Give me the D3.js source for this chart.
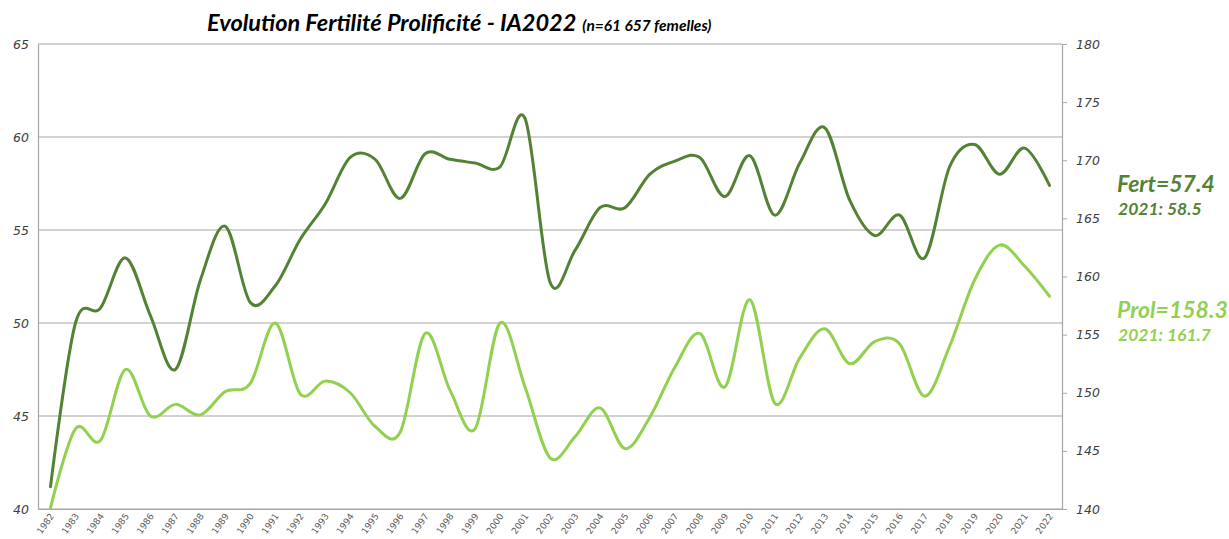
<!DOCTYPE html>
<html>
<head>
<meta charset="utf-8">
<script src="https://cdn.jsdelivr.net/npm/d3@7"></script>
<style>
  html, body { margin: 0; padding: 0; background: #fff; }
  svg { display: block; }
</style>
</head>
<body>
<svg id="chart" width="1229" height="539"></svg>
<script>
// Campaign years
const years = d3.range(1982, 2023).map(String);

// Fertility (%) per year, left axis
const fertility = [
  41.2, 50.0, 50.8, 53.5, 50.4, 47.5, 52.3, 55.2, 51.1, 52.0,
  54.5, 56.4, 58.9, 58.8, 56.7, 59.1, 58.8, 58.6, 58.4, 61.0,
  52.2, 53.9, 56.2, 56.2, 58.0, 58.7, 58.9, 56.8, 59.0, 55.8,
  58.6, 60.5, 56.6, 54.7, 55.8, 53.5, 58.4, 59.6, 58.0, 59.4,
  57.4
];

// Prolificacy per year, right axis
const prolificacy = [
  140.1, 146.9, 145.9, 152.0, 148.0, 149.0, 148.1, 150.1, 150.8, 156.0,
  149.9, 151.0, 150.0, 147.1, 146.6, 155.1, 150.2, 146.9, 156.0, 150.5,
  144.4, 146.2, 148.7, 145.2, 147.9, 152.2, 155.1, 150.5, 158.0, 149.1,
  153.0, 155.5, 152.5, 154.4, 154.2, 149.7, 154.0, 159.7, 162.7, 160.9,
  158.3
];

const leftTicks = [40, 45, 50, 55, 60, 65];
const rightTicks = [140, 145, 150, 155, 160, 165, 170, 175, 180];

const titleMain = "Evolution Fertilité Prolificité - IA2022";
const titleSub = "(n=61 657 femelles)";
const fertLabel = "Fert=57.4";
const fertPrev = "2021: 58.5";
const prolLabel = "Prol=158.3";
const prolPrev = "2021: 161.7";

const darkGreen = "#548235";
const lightGreen = "#92d050";
const gridColor = "#a6a6a6";
const labelColor = "#404040";

const svg = d3.select("#chart");
const plot = { left: 38, right: 1062, top: 44, bottom: 509 };

const x = d3.scaleBand().domain(years).range([plot.left, plot.right]);
const yL = d3.scaleLinear().domain([40, 65]).range([plot.bottom, plot.top]);
const yR = d3.scaleLinear().domain([140, 180]).range([plot.bottom, plot.top]);
const cx = d => x(d) + x.bandwidth() / 2;

// Horizontal gridlines from the left scale
svg.append("g")
  .selectAll("line")
  .data(leftTicks)
  .join("line")
  .attr("x1", plot.left).attr("x2", plot.right)
  .attr("y1", d => yL(d)).attr("y2", d => yL(d))
  .attr("stroke", gridColor).attr("stroke-width", 1.2);

// Left axis
const axL = svg.append("g")
  .attr("transform", `translate(${plot.left},0)`)
  .call(d3.axisLeft(yL).tickValues(leftTicks).tickSize(0).tickPadding(9));
axL.select(".domain").attr("stroke", gridColor).attr("stroke-width", 1.2);
axL.selectAll("text")
  .attr("font-family", "DejaVu Sans, Verdana, sans-serif")
  .attr("font-style", "italic")
  .attr("font-size", 12.5)
  .attr("fill", labelColor);

// Right axis
const axR = svg.append("g")
  .attr("transform", `translate(${plot.right},0)`)
  .call(d3.axisRight(yR).tickValues(rightTicks).tickSize(5).tickPadding(9));
axR.select(".domain").attr("stroke", gridColor).attr("stroke-width", 1.2);
axR.selectAll(".tick line").attr("stroke", gridColor);
axR.selectAll("text")
  .attr("font-family", "DejaVu Sans, Verdana, sans-serif")
  .attr("font-style", "italic")
  .attr("font-size", 12.5)
  .attr("fill", labelColor);

// Bottom axis with slanted year labels
const axB = svg.append("g")
  .attr("transform", `translate(0,${plot.bottom})`)
  .call(d3.axisBottom(x).tickSize(0).tickPadding(0));
axB.select(".domain").attr("stroke", gridColor).attr("stroke-width", 1.2);
axB.selectAll("text")
  .attr("font-family", "DejaVu Sans, Verdana, sans-serif")
  .attr("font-size", 9)
  .attr("fill", "#595959")
  .attr("text-anchor", "end")
  .attr("dy", 0)
  .attr("transform", "translate(4,7) rotate(-55)");

// Smoothed series
const curve = d3.curveCatmullRom.alpha(0);
const fertLine = d3.line().x((d, i) => cx(years[i])).y(d => yL(d)).curve(curve);
const prolLine = d3.line().x((d, i) => cx(years[i])).y(d => yR(d)).curve(curve);

svg.append("path")
  .datum(prolificacy)
  .attr("d", prolLine)
  .attr("fill", "none")
  .attr("stroke", lightGreen)
  .attr("stroke-width", 3)
  .attr("stroke-linecap", "round");

svg.append("path")
  .datum(fertility)
  .attr("d", fertLine)
  .attr("fill", "none")
  .attr("stroke", darkGreen)
  .attr("stroke-width", 3)
  .attr("stroke-linecap", "round");

// Title
const title = svg.append("text")
  .attr("x", 207).attr("y", 31)
  .attr("font-family", "Lato, 'Open Sans', sans-serif")
  .attr("font-style", "italic")
  .attr("font-weight", "bold")
  .attr("fill", "#000");
title.append("tspan").attr("font-size", 23.5).text(titleMain);
title.append("tspan").attr("font-size", 15.5).attr("dx", 6).text(titleSub);

// Latest-value annotations
const ann = svg.append("g")
  .attr("font-family", "Lato, 'Open Sans', sans-serif")
  .attr("font-style", "italic")
  .attr("font-weight", "bold");
ann.append("text").attr("x", 1117).attr("y", 192)
  .attr("font-size", 23).attr("fill", darkGreen).text(fertLabel);
ann.append("text").attr("x", 1118).attr("y", 215)
  .attr("font-size", 17.5).attr("fill", darkGreen).text(fertPrev);
ann.append("text").attr("x", 1117).attr("y", 318)
  .attr("font-size", 23).attr("fill", lightGreen).text(prolLabel);
ann.append("text").attr("x", 1118).attr("y", 341)
  .attr("font-size", 17.5).attr("fill", lightGreen).text(prolPrev);
</script>
</body>
</html>
